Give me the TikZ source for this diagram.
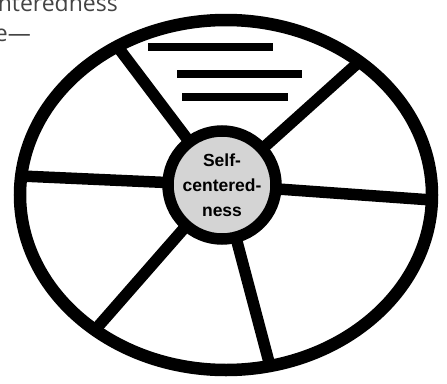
\documentclass[tikz,border=0pt]{standalone}
\usepackage{fontspec}
\setmainfont{Liberation Sans}
\newfontfamily\notefont{Open Sans}
\definecolor{hubgray}{RGB}{212,212,212}
\definecolor{notegray}{RGB}{68,68,68}
\begin{document}
\begin{tikzpicture}[x=1pt,y=-1pt,
  rim/.style={line width=12.5pt},
  spoke/.style={line width=11.5pt},
  bar/.style={line width=8pt},
  hub/.style={circle,draw,line width=11.5pt,fill=hubgray,minimum size=108pt,inner sep=0pt},
  hublabel/.style={align=center,inner sep=0pt,font=\fontsize{17.5}{25}\selectfont\bfseries},
  note/.style={inner sep=0pt,text=notegray,font=\notefont\fontsize{23}{30}\selectfont}]
\useasboundingbox (0,0) rectangle (447,383);
\clip (0,0) rectangle (447,383);
% cut-off text at top left
\node[note,anchor=base east] (n1) at (118,11) {centeredness};
\node[note,anchor=base east] (n2) at (31,41) {e—};
% geometry
\coordinate (o) at (222,185);
\coordinate (eo) at (226,195);
\coordinate (e1) at (117,46);
\coordinate (e2) at (360,61);
\coordinate (e3) at (432,200);
\coordinate (e4) at (270,366);
\coordinate (e5) at (95,330);
\coordinate (e6) at (21,176);
\draw[spoke] (o) -- (e1);
\draw[spoke] (o) -- (e2);
\draw[spoke] (o) -- (e3);
\draw[spoke] (o) -- (e4);
\draw[spoke] (o) -- (e5);
\draw[spoke] (o) -- (e6);
\draw[rim] (eo) ellipse [x radius=206, y radius=175];
% lines in the top sector
\draw[bar] (148,47) -- (273,47);
\draw[bar] (177,74) -- (302,74);
\draw[bar] (182,97) -- (288,97);
% hub
\node[hub] (c) at (o) {};
\node[hublabel] (lbl) at (o) {Self-\\centered-\\ness};
\end{tikzpicture}
\end{document}
